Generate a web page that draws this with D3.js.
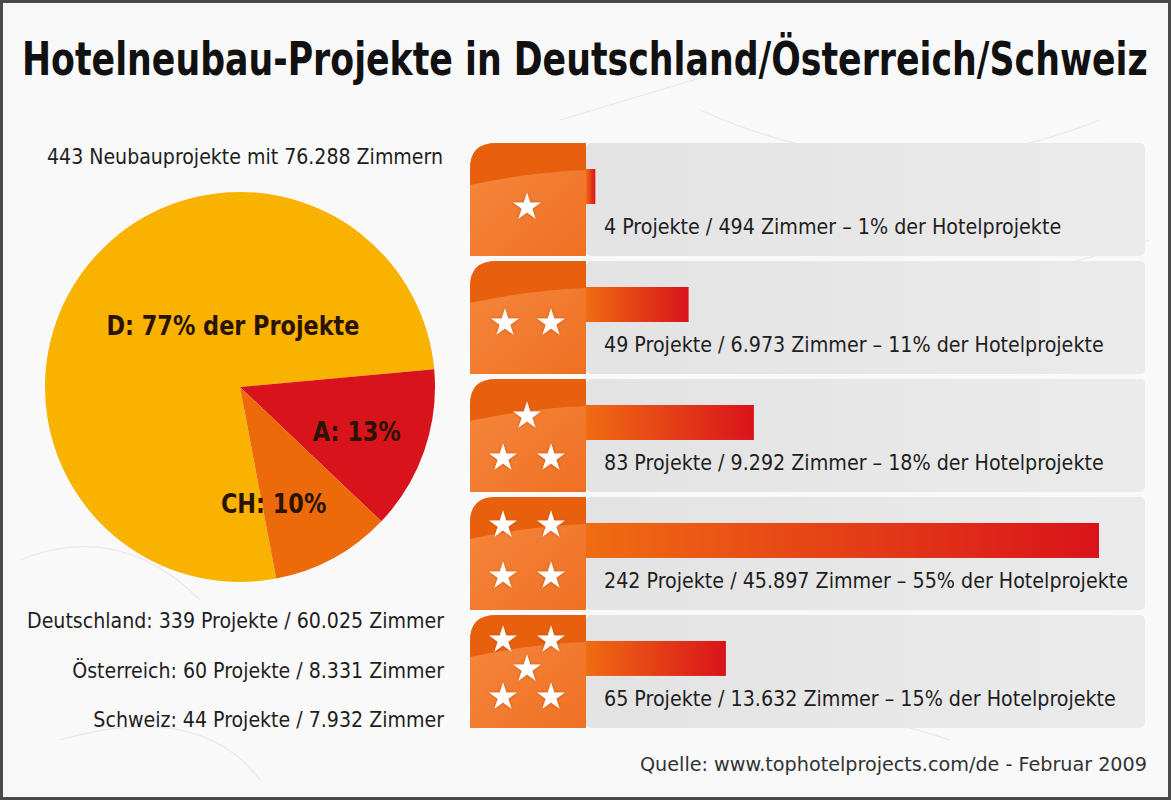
<!DOCTYPE html>
<html>
<head>
<meta charset="utf-8">
<script src="https://cdn.jsdelivr.net/npm/d3@7"></script>
<style>
  body { margin: 0; background: #fff; }
  svg { display: block; }
  text { font-family: "Liberation Sans Narrow", "DejaVu Sans Condensed", "Roboto Condensed", sans-serif; font-stretch: condensed; }
</style>
</head>
<body>
<div id="app"></div>
<script>
const W = 1171, H = 800

// countries (pie)
const countries = ['D', 'A', 'CH']
const countryNames = ['Deutschland', 'Österreich', 'Schweiz']
const countryProjects = [339, 60, 44]
const countryRooms = [60025, 8331, 7932]
const countryShares = [77, 13, 10]

// star categories (bars)
const starClasses = [1, 2, 3, 4, 5]
const classProjects = [4, 49, 83, 242, 65]
const classRooms = [494, 6973, 9292, 45897, 13632]
const classShares = [1, 11, 18, 55, 15]

const totalProjects = 443
const totalRooms = 76288

const de = d3.formatLocale({ decimal: ',', thousands: '.', grouping: [3], currency: ['', ' €'] })
const fmt = de.format(',')

const svg = d3.select('#app').append('svg')
  .attr('width', W)
  .attr('height', H)

const defs = svg.append('defs')

const barGrad = defs.append('linearGradient').attr('id', 'bar')
barGrad.append('stop').attr('offset', '0%').attr('stop-color', '#f06c12')
barGrad.append('stop').attr('offset', '100%').attr('stop-color', '#d9131b')

const panelGrad = defs.append('linearGradient').attr('id', 'panel')
panelGrad.append('stop').attr('offset', '0%').attr('stop-color', '#e3e3e3')
panelGrad.append('stop').attr('offset', '100%').attr('stop-color', '#ebebeb')

const badgeGrad = defs.append('linearGradient').attr('id', 'badge')
  .attr('x1', 0).attr('y1', 0).attr('x2', 1).attr('y2', 1)
badgeGrad.append('stop').attr('offset', '0%').attr('stop-color', '#f5893f')
badgeGrad.append('stop').attr('offset', '100%').attr('stop-color', '#ef7023')

const glow = defs.append('filter').attr('id', 'glow')
  .attr('x', '-50%').attr('y', '-50%').attr('width', '200%').attr('height', '200%')
glow.append('feGaussianBlur').attr('in', 'SourceAlpha').attr('stdDeviation', 1.5).attr('result', 'b')
glow.append('feFlood').attr('flood-color', '#b84400').attr('flood-opacity', 0.6)
glow.append('feComposite').attr('in2', 'b').attr('operator', 'in').attr('result', 's')
const merge = glow.append('feMerge')
merge.append('feMergeNode').attr('in', 's')
merge.append('feMergeNode').attr('in', 'SourceGraphic')

// background + faint sketch lines
svg.append('rect').attr('width', W).attr('height', H).attr('fill', '#f9f9f9')
const sketch = svg.append('g').attr('stroke', '#e8e8e8').attr('fill', 'none').attr('stroke-width', 1.2)
sketch.append('path').attr('d', 'M560,120 L760,60 M700,110 Q900,200 1100,120 M940,300 L1150,240 M480,700 Q700,660 950,740')
sketch.append('path').attr('d', 'M20,560 Q120,520 200,600 M60,740 Q200,700 260,780')

// fit a set of texts horizontally by one common factor
function squeeze(sel, refNode, target) {
  const k = target / refNode.getComputedTextLength()
  sel.each(function () {
    const w = this.getComputedTextLength()
    d3.select(this).attr('textLength', w * k).attr('lengthAdjust', 'spacingAndGlyphs')
  })
}

// title: size the font to the width, then stretch it vertically
const titleSize = 46
const title = svg.append('text')
  .attr('font-size', titleSize).attr('font-weight', 'bold').attr('fill', '#111')
  .text('Hotelneubau-Projekte in Deutschland/Österreich/Schweiz')
const fitSize = titleSize * 1126 / title.node().getComputedTextLength()
title.attr('font-size', fitSize)
  .attr('transform', `translate(22, 75) scale(1, ${titleSize / fitSize})`)

// ---- pie ----
const cx = 240, cy = 387, R = 195
const pieData = countries.map((c, i) => ({ code: c, projects: countryProjects[i], share: countryShares[i] }))
const pie = d3.pie().sort(null).value(d => d.projects)
  .startAngle(169.3 * Math.PI / 180)
  .endAngle(169.3 * Math.PI / 180 + 2 * Math.PI)
const arc = d3.arc().innerRadius(0).outerRadius(R)
const labelArc = d3.arc().innerRadius(R * 0.65).outerRadius(R * 0.65)
const color = d3.scaleOrdinal().domain(countries).range(['#f9b200', '#d8131b', '#ec6a0a'])

const pg = svg.append('g').attr('transform', `translate(${cx}, ${cy})`)
pg.selectAll('path')
  .data(pie(pieData))
  .enter().append('path')
  .attr('fill', d => color(d.data.code))
  .attr('d', arc)

const labelText = ['D: ' + countryShares[0] + '% der Projekte', 'A: ' + countryShares[1] + '%', 'CH: ' + countryShares[2] + '%']
const labelNudge = [[-7, -52], [-3, 4], [-27, 7]]
const pieLabels = pg.selectAll('text.pl')
  .data(pie(pieData))
  .enter().append('text')
  .attr('class', 'pl')
  .attr('text-anchor', 'middle')
  .attr('font-weight', 'bold')
  .attr('font-size', 26)
  .attr('fill', '#2a1400')
  .attr('x', (d, i) => i === 0 ? labelNudge[i][0] : labelArc.centroid(d)[0] + labelNudge[i][0])
  .attr('y', (d, i) => i === 0 ? labelNudge[i][1] : labelArc.centroid(d)[1] + labelNudge[i][1] + 8)
  .text((d, i) => labelText[i])
squeeze(pieLabels, pieLabels.nodes()[0], 253)

// left texts
const headLine = svg.append('text')
  .attr('x', 443).attr('y', 164)
  .attr('text-anchor', 'end').attr('font-size', 22).attr('fill', '#1e1e1e')
  .text(`${totalProjects} Neubauprojekte mit ${fmt(totalRooms)} Zimmern`)
squeeze(headLine, headLine.node(), 396)

const ly = d3.scalePoint().domain(countries).range([628, 727])
const countryLines = svg.selectAll('text.cl')
  .data(countries)
  .enter().append('text')
  .attr('class', 'cl')
  .attr('x', 444).attr('y', d => ly(d))
  .attr('text-anchor', 'end').attr('font-size', 22).attr('fill', '#1e1e1e')
  .text((d, i) => `${countryNames[i]}: ${countryProjects[i]} Projekte / ${fmt(countryRooms[i])} Zimmer`)
squeeze(countryLines, countryLines.nodes()[0], 417)

// ---- bars ----
const badgeW = 116
const x0 = 470 + badgeW
const x = d3.scaleLinear().domain([0, 55]).range([0, 513])
const y = d3.scaleBand().domain(starClasses).range([143, 728]).paddingInner(0.042)
const bh = y.bandwidth()

const starLayouts = {
  1: [[57, 62]],
  2: [[35, 60], [81, 60]],
  3: [[57, 35], [33, 77], [81, 77]],
  4: [[33, 26], [81, 26], [33, 77], [81, 77]],
  5: [[33, 23], [81, 23], [57, 52], [33, 80], [81, 80]]
}
const star = d3.symbol().type(d3.symbolStar).size(240)

const rows = svg.selectAll('g.row')
  .data(starClasses)
  .enter().append('g')
  .attr('class', 'row')
  .attr('transform', d => `translate(470, ${y(d)})`)

rows.append('rect')
  .attr('x', badgeW).attr('width', 1145 - x0).attr('height', bh)
  .attr('rx', 5)
  .attr('fill', 'url(#panel)')

rows.append('path')
  .attr('d', `M0,${bh} L0,26 Q0,0 26,0 L${badgeW},0 L${badgeW},${bh} Z`)
  .attr('fill', 'url(#badge)')
rows.append('path')
  .attr('d', `M0,42 L0,26 Q0,0 26,0 L${badgeW},0 L${badgeW},27 Q60,29 0,42 Z`)
  .attr('fill', '#e8600e')

rows.selectAll('path.star')
  .data(d => starLayouts[d])
  .enter().append('path')
  .attr('class', 'star')
  .attr('transform', p => `translate(${p[0]}, ${p[1] + 2})`)
  .attr('d', star)
  .attr('fill', '#fff')
  .attr('filter', 'url(#glow)')

rows.append('rect')
  .attr('x', badgeW)
  .attr('y', 26)
  .attr('width', (d, i) => x(classShares[i]))
  .attr('height', 35)
  .attr('fill', 'url(#bar)')

const rowTexts = rows.append('text')
  .attr('x', 604 - 470).attr('y', 91)
  .attr('font-size', 22).attr('fill', '#1e1e1e')
  .text((d, i) => `${classProjects[i]} Projekte / ${fmt(classRooms[i])} Zimmer – ${classShares[i]}% der Hotelprojekte`)
squeeze(rowTexts, rowTexts.nodes()[3], 524)

// source
const src = svg.append('text')
  .attr('x', 1147).attr('y', 771)
  .attr('text-anchor', 'end').attr('font-size', 20).attr('fill', '#333')
  .text('Quelle: www.tophotelprojects.com/de - Februar 2009')
squeeze(src, src.node(), 507)

// frame
svg.append('rect')
  .attr('x', 1.5).attr('y', 1.5).attr('width', W - 3).attr('height', H - 3)
  .attr('fill', 'none').attr('stroke', '#4a4a4a').attr('stroke-width', 3)
</script>
</body>
</html>
